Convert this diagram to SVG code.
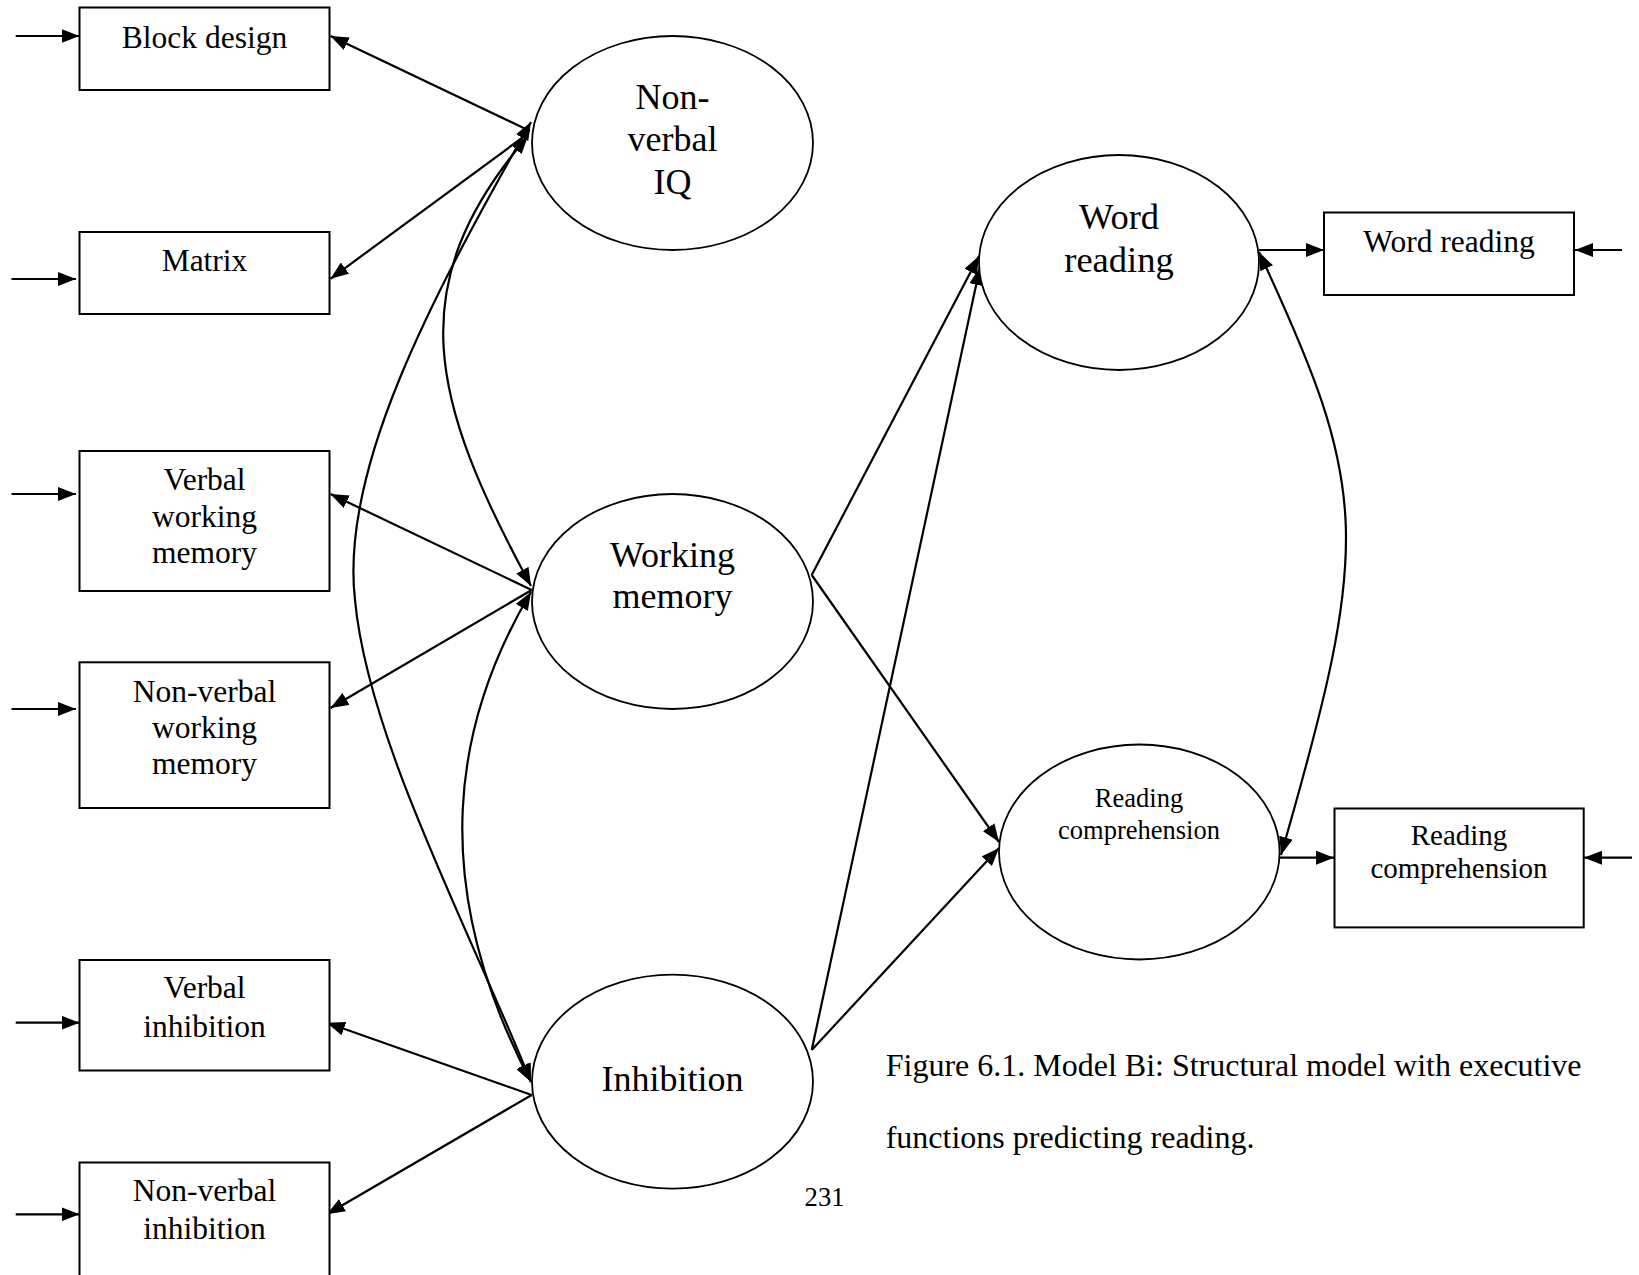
<svg xmlns="http://www.w3.org/2000/svg" width="1639" height="1275" viewBox="0 0 1639 1275">
<style>
.box{fill:#fff;stroke:#000;stroke-width:2}
.ell{fill:#fff;stroke:#000;stroke-width:1.8}
.ln{fill:none;stroke:#000;stroke-width:2.2}
.t{font-family:"Liberation Serif","Times New Roman",serif;fill:#000;text-anchor:middle}
.b{font-size:31.5px}
.l{font-size:36px}
</style>
<defs>
<marker id="ah" markerUnits="userSpaceOnUse" markerWidth="18" markerHeight="14" viewBox="0 0 18 14" refX="18" refY="7" orient="auto-start-reverse">
<path d="M0,0 L18,7 L0,14 z" fill="#000"/>
</marker>
</defs>
<rect width="1639" height="1275" fill="#fff"/>
<g id="connectors">
<line class="ln" x1="15.7" y1="36" x2="79.5" y2="36" marker-end="url(#ah)"/>
<line class="ln" x1="11.5" y1="279" x2="76" y2="279" marker-end="url(#ah)"/>
<line class="ln" x1="11.5" y1="494" x2="76" y2="494" marker-end="url(#ah)"/>
<line class="ln" x1="11.5" y1="709" x2="76" y2="709" marker-end="url(#ah)"/>
<line class="ln" x1="15.7" y1="1022.7" x2="79.5" y2="1022.7" marker-end="url(#ah)"/>
<line class="ln" x1="15.7" y1="1214.3" x2="79.5" y2="1214.3" marker-end="url(#ah)"/>
<line class="ln" x1="530" y1="131" x2="330.5" y2="36" marker-end="url(#ah)"/>
<line class="ln" x1="526" y1="135" x2="330.5" y2="278.8" marker-end="url(#ah)"/>
<line class="ln" x1="531.7" y1="590" x2="330.5" y2="494" marker-end="url(#ah)"/>
<line class="ln" x1="531.7" y1="590" x2="330.5" y2="708" marker-end="url(#ah)"/>
<line class="ln" x1="531.7" y1="1095" x2="326.9" y2="1022.7" marker-end="url(#ah)"/>
<line class="ln" x1="531.7" y1="1095" x2="326.9" y2="1214.3" marker-end="url(#ah)"/>
<path class="ln" d="M528,136 C400,285 430,400 531,586" marker-start="url(#ah)" marker-end="url(#ah)"/>
<path class="ln" d="M531,122 C430,300 340,470 355,600 C368,740 470,930 531,1082" marker-start="url(#ah)" marker-end="url(#ah)"/>
<path class="ln" d="M531,592 C455,720 425,880 531,1082" marker-start="url(#ah)" marker-end="url(#ah)"/>
<line class="ln" x1="811.7" y1="575" x2="979" y2="256" marker-end="url(#ah)"/>
<line class="ln" x1="811.7" y1="575" x2="999" y2="842" marker-end="url(#ah)"/>
<line class="ln" x1="811.7" y1="1050" x2="980" y2="267" marker-end="url(#ah)"/>
<line class="ln" x1="811.7" y1="1050" x2="999" y2="848" marker-end="url(#ah)"/>
<path class="ln" d="M1259,252 C1370,490 1372,540 1281,855" marker-start="url(#ah)" marker-end="url(#ah)"/>
<line class="ln" x1="1259" y1="250" x2="1324" y2="250" marker-end="url(#ah)"/>
<line class="ln" x1="1622" y1="250" x2="1575" y2="250" marker-end="url(#ah)"/>
<line class="ln" x1="1280" y1="857.7" x2="1334" y2="857.7" marker-end="url(#ah)"/>
<line class="ln" x1="1632" y1="857.7" x2="1584" y2="857.7" marker-end="url(#ah)"/>
</g>
<g id="block-design"><rect class="box" x="79.5" y="7.5" width="250" height="82.5"/><text class="t b" x="204.5" y="48">Block design</text></g>
<g id="matrix"><rect class="box" x="79.5" y="232" width="250" height="82"/><text class="t b" x="204.5" y="271">Matrix</text></g>
<g id="verbal-wm"><rect class="box" x="79.5" y="451" width="250" height="140"/><text class="t b" x="204.5" y="490">Verbal</text><text class="t b" x="204.5" y="526.5">working</text><text class="t b" x="204.5" y="563">memory</text></g>
<g id="nonverbal-wm"><rect class="box" x="79.5" y="662.3" width="250" height="145.7"/><text class="t b" x="204.5" y="701.6">Non-verbal</text><text class="t b" x="204.5" y="737.5">working</text><text class="t b" x="204.5" y="773.7">memory</text></g>
<g id="verbal-inhibition"><rect class="box" x="79.5" y="960" width="250" height="110.5"/><text class="t b" x="204.5" y="998.4">Verbal</text><text class="t b" x="204.5" y="1037">inhibition</text></g>
<g id="nonverbal-inhibition"><rect class="box" x="79.5" y="1162.5" width="250" height="130"/><text class="t b" x="204.5" y="1201">Non-verbal</text><text class="t b" x="204.5" y="1239.4">inhibition</text></g>
<g id="nonverbal-iq"><ellipse class="ell" cx="672.5" cy="143" rx="140.5" ry="107"/><text class="t l" x="672.5" y="109">Non-</text><text class="t l" x="672.5" y="151">verbal</text><text class="t l" x="672.5" y="194">IQ</text></g>
<g id="working-memory"><ellipse class="ell" cx="672.5" cy="601.5" rx="140.5" ry="107.5"/><text class="t l" x="672.5" y="567">Working</text><text class="t l" x="672.5" y="608">memory</text></g>
<g id="inhibition"><ellipse class="ell" cx="672.5" cy="1081.6" rx="140.5" ry="107"/><text class="t l" x="672.5" y="1090.8">Inhibition</text></g>
<g id="word-reading-latent"><ellipse class="ell" cx="1119" cy="262.5" rx="140" ry="107.5"/><text class="t" style="font-size:36.5px" x="1119" y="229.3">Word</text><text class="t" style="font-size:36.5px" x="1119" y="271.7">reading</text></g>
<g id="reading-comprehension-latent"><ellipse class="ell" cx="1139.3" cy="852" rx="140.3" ry="107.5"/><text class="t" style="font-size:26.5px" x="1139" y="807">Reading</text><text class="t" style="font-size:26.5px" x="1139" y="839">comprehension</text></g>
<g id="word-reading-box"><rect class="box" x="1324" y="212.5" width="250" height="82.5"/><text class="t b" x="1449" y="251.7">Word reading</text></g>
<g id="reading-comprehension-box"><rect class="box" x="1334.5" y="808.5" width="249.2" height="118.9"/><text class="t" style="font-size:29px" x="1459" y="844.8">Reading</text><text class="t" style="font-size:29px" x="1459" y="877.8">comprehension</text></g>
<g id="caption"><text class="t" style="font-size:32px;text-anchor:start" x="885.7" y="1075.9">Figure 6.1. Model Bi: Structural model with executive</text><text class="t" style="font-size:32px;text-anchor:start" x="885.7" y="1148">functions predicting reading.</text></g>
<g id="page-number"><text class="t" style="font-size:26.7px" x="824.6" y="1206">231</text></g>
</svg>
